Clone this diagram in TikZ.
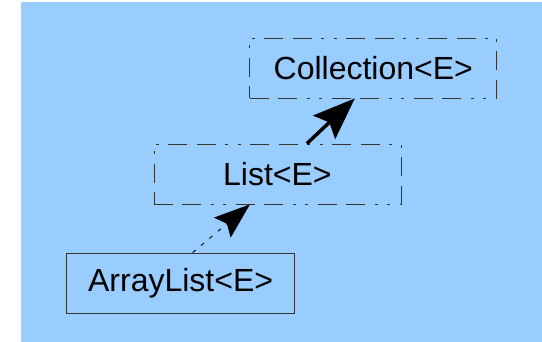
\documentclass[tikz,border=0pt]{standalone}
\usepackage{fontspec}
\setmainfont{Liberation Sans}
\usetikzlibrary{arrows.meta}
\definecolor{skyback}{HTML}{99CCFF}
\definecolor{boxline}{HTML}{333333}
\begin{document}
\begin{tikzpicture}[
        x=1pt, y=-1pt, font=\fontsize{32}{36}\selectfont,
        classbox/.style={draw=boxline, line width=0.8pt, minimum height=60pt, inner sep=0pt, align=center},
        interface/.style={classbox, dash pattern=on 19pt off 9.5pt on 19pt off 9.5pt on 3pt off 9.5pt on 3pt off 9.5pt},
        extends/.style={-{Stealth[length=42pt, width=32pt, inset=7pt]}, line width=3.5pt},
        implements/.style={-{Stealth[length=36pt, width=26pt, inset=6pt]}, line width=0.9pt, dash pattern=on 4pt off 7pt}
    ]
        \useasboundingbox (0,0) rectangle (542,342);
        % Hintergrund.
        \fill[skyback] (21,2) rectangle (542,342);

        % Schnittstellen und Klasse.
        \node[interface, minimum width=247pt] (collection) at (373.3,68) {Collection<E>};
        \node[interface, minimum width=247pt] (list) at (277.4,174) {List<E>};
        \node[classbox, minimum width=228pt] (arraylist) at (180.6,283) {ArrayList<E>};

        % Vererbung.
        \draw[extends] ([xshift=29.5pt]list.north) -- ([xshift=-18.5pt]collection.south);
        \draw[implements] ([xshift=12pt]arraylist.north) -- ([xshift=-27.5pt]list.south);
    \end{tikzpicture}
\end{document}
